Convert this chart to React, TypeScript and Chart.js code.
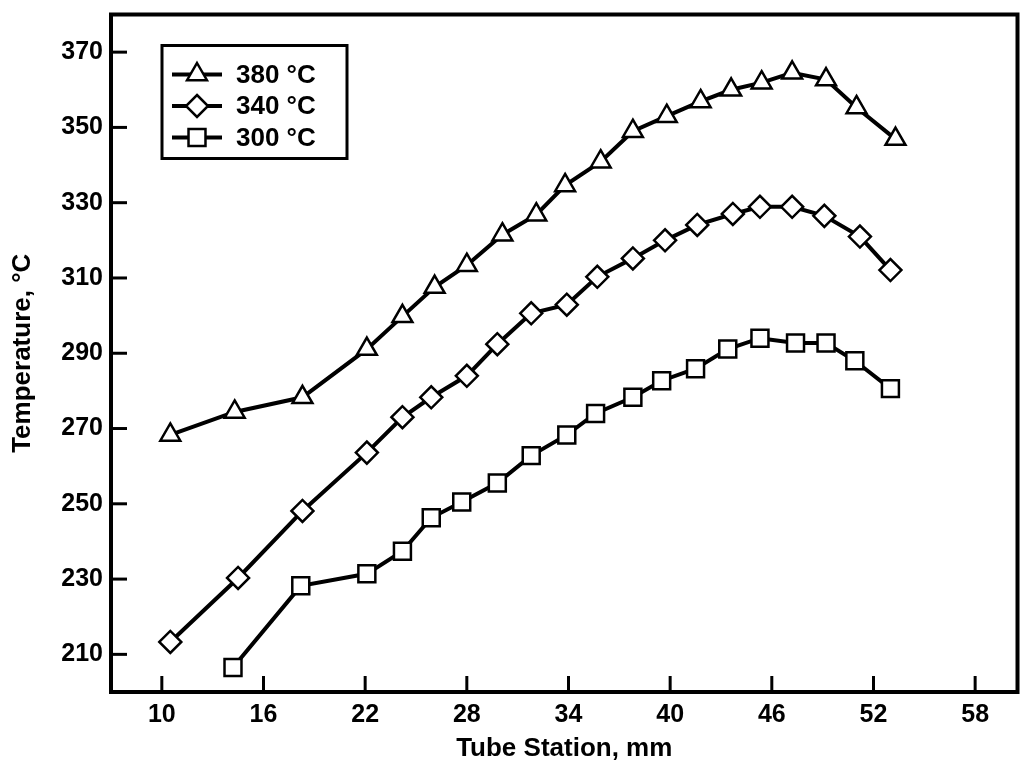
import React, { useEffect, useRef } from "react";
import { Chart, registerables } from "chart.js";

Chart.register(...registerables);

const xTicks = [10, 16, 22, 28, 34, 40, 46, 52, 58];
const yTicks = [210, 230, 250, 270, 290, 310, 330, 350, 370];

const seriesLabels = ["380 °C", "340 °C", "300 °C"];

const x380 = [10.5, 14.3, 18.3, 22.1, 24.2, 26.1, 28.0, 30.1, 32.1, 33.8, 35.9, 37.8, 39.8, 41.8, 43.6, 45.4, 47.2, 49.2, 51.0, 53.3];
const t380 = [268.3, 274.4, 278.3, 291.1, 299.8, 307.6, 313.4, 321.5, 326.8, 334.6, 340.9, 349.0, 353.0, 356.9, 360.0, 361.9, 364.5, 362.7, 355.3, 346.9];

const x340 = [10.5, 14.5, 18.3, 22.1, 24.2, 25.9, 28.0, 29.8, 31.8, 33.9, 35.7, 37.8, 39.7, 41.6, 43.7, 45.3, 47.2, 49.1, 51.2, 53.0];
const t340 = [213.3, 230.3, 248.1, 263.6, 273.0, 278.3, 284.0, 292.4, 300.6, 302.9, 310.3, 315.2, 320.0, 324.1, 327.0, 328.9, 328.9, 326.5, 321.0, 312.1];

const x300 = [14.2, 18.2, 22.1, 24.2, 25.9, 27.7, 29.8, 31.8, 33.9, 35.6, 37.8, 39.5, 41.5, 43.4, 45.3, 47.4, 49.2, 50.9, 53.0];
const t300 = [206.5, 228.2, 231.4, 237.4, 246.3, 250.5, 255.5, 262.8, 268.3, 274.0, 278.3, 282.7, 285.9, 291.1, 294.0, 292.7, 292.7, 288.0, 280.6];

const FONT = "'Liberation Sans', Arial, Helvetica, sans-serif";

function drawMarker(ctx: CanvasRenderingContext2D, style: string, x: number, y: number, r: number) {
  ctx.beginPath();
  if (style === "triangle") {
    ctx.moveTo(x, y - r);
    ctx.lineTo(x + r * 0.866, y + r * 0.5);
    ctx.lineTo(x - r * 0.866, y + r * 0.5);
    ctx.closePath();
  } else if (style === "rectRot") {
    ctx.moveTo(x, y - r);
    ctx.lineTo(x + r, y);
    ctx.lineTo(x, y + r);
    ctx.lineTo(x - r, y);
    ctx.closePath();
  } else {
    const s = r * Math.SQRT1_2;
    ctx.rect(x - s, y - s, 2 * s, 2 * s);
  }
  ctx.fill();
  ctx.stroke();
}

const framePlugin = {
  id: "frameTicksLegend",
  afterDraw(chart: any) {
    const { ctx, chartArea } = chart;
    const { left, right, top, bottom } = chartArea;
    ctx.save();
    ctx.strokeStyle = "#000";
    ctx.lineCap = "butt";
    // inward ticks
    ctx.lineWidth = 3;
    const xs = chart.scales.x;
    const ys = chart.scales.y;
    xTicks.forEach((v) => {
      const px = xs.getPixelForValue(v);
      ctx.beginPath();
      ctx.moveTo(px, bottom);
      ctx.lineTo(px, bottom - 16);
      ctx.stroke();
    });
    yTicks.forEach((v) => {
      const py = ys.getPixelForValue(v);
      ctx.beginPath();
      ctx.moveTo(left, py);
      ctx.lineTo(left + 16, py);
      ctx.stroke();
    });
    // frame
    ctx.lineWidth = 4;
    ctx.strokeRect(left, top, right - left, bottom - top);

    // legend
    const bx = left + 51;
    const by = top + 31;
    const bw = 185;
    const bh = 113;
    ctx.fillStyle = "#fff";
    ctx.fillRect(bx, by, bw, bh);
    ctx.lineWidth = 3;
    ctx.strokeRect(bx, by, bw, bh);
    chart.data.datasets.forEach((ds: any, i: number) => {
      const cy = by + 29 + i * 31.5;
      ctx.lineWidth = 4;
      ctx.strokeStyle = "#000";
      ctx.beginPath();
      ctx.moveTo(bx + 10, cy);
      ctx.lineTo(bx + 60, cy);
      ctx.stroke();
      ctx.fillStyle = "#fff";
      ctx.lineWidth = 2.5;
      drawMarker(ctx, ds.pointStyle, bx + 35, cy, ds.pointRadius);
      ctx.fillStyle = "#000";
      ctx.font = `bold 26px ${FONT}`;
      ctx.textAlign = "left";
      ctx.textBaseline = "middle";
      ctx.fillText(ds.label, bx + 74, cy + 1);
    });
    ctx.restore();
  },
};

function makeData(xv: number[], yv: number[]) {
  return xv.map((x, i) => ({ x, y: yv[i] }));
}

export default function App() {
  const canvasRef = useRef<HTMLCanvasElement | null>(null);

  useEffect(() => {
    if (!canvasRef.current) return;
    const common = {
      showLine: true,
      borderColor: "#000",
      borderWidth: 4,
      pointBackgroundColor: "#fff",
      pointBorderColor: "#000",
      pointBorderWidth: 2.5,
      tension: 0,
    };
    const chart = new Chart(canvasRef.current, {
      type: "scatter",
      data: {
        datasets: [
          { ...common, label: seriesLabels[0], data: makeData(x380, t380), pointStyle: "triangle", pointRadius: 11.5 },
          { ...common, label: seriesLabels[1], data: makeData(x340, t340), pointStyle: "rectRot", pointRadius: 11 },
          { ...common, label: seriesLabels[2], data: makeData(x300, t300), pointStyle: "rect", pointRadius: 12 },
        ],
      },
      options: {
        animation: false,
        responsive: false,
        devicePixelRatio: 1,
        layout: { padding: { top: 12, right: 8, left: 0, bottom: 0 } },
        plugins: {
          legend: { display: false },
          tooltip: { enabled: false },
        },
        scales: {
          x: {
            type: "linear",
            min: 7,
            max: 60.5,
            grid: { display: false, drawTicks: false },
            border: { display: false },
            afterBuildTicks: (s: any) => {
              s.ticks = xTicks.map((v) => ({ value: v }));
            },
            afterFit: (s: any) => {
              s.height = 82;
              s.paddingLeft = 0;
              s.paddingRight = 0;
            },
            ticks: {
              autoSkip: false,
              maxRotation: 0,
              padding: 8,
              color: "#000",
              font: { family: FONT, size: 25, weight: "bold" },
            },
            title: {
              display: true,
              text: "Tube Station, mm",
              color: "#000",
              font: { family: FONT, size: 26, weight: "bold" },
              padding: { top: 0, bottom: 10 },
            },
          },
          y: {
            type: "linear",
            min: 200,
            max: 380,
            grid: { display: false, drawTicks: false },
            border: { display: false },
            afterBuildTicks: (s: any) => {
              s.ticks = yTicks.map((v) => ({ value: v }));
            },
            afterFit: (s: any) => {
              s.width = 111;
              s.paddingTop = 0;
              s.paddingBottom = 0;
            },
            ticks: {
              autoSkip: false,
              padding: 8,
              color: "#000",
              font: { family: FONT, size: 25, weight: "bold" },
            },
            title: {
              display: true,
              text: "Temperature, °C",
              color: "#000",
              font: { family: FONT, size: 26, weight: "bold" },
              padding: { top: 7, bottom: 0 },
            },
          },
        },
      },
      plugins: [framePlugin],
    } as any);
    return () => chart.destroy();
  }, []);

  return (
    <div style={{ position: "absolute", left: 0, top: 0, width: 1032, height: 774, background: "#fff" }}>
      <canvas ref={canvasRef} width={1032} height={774} />
    </div>
  );
}
